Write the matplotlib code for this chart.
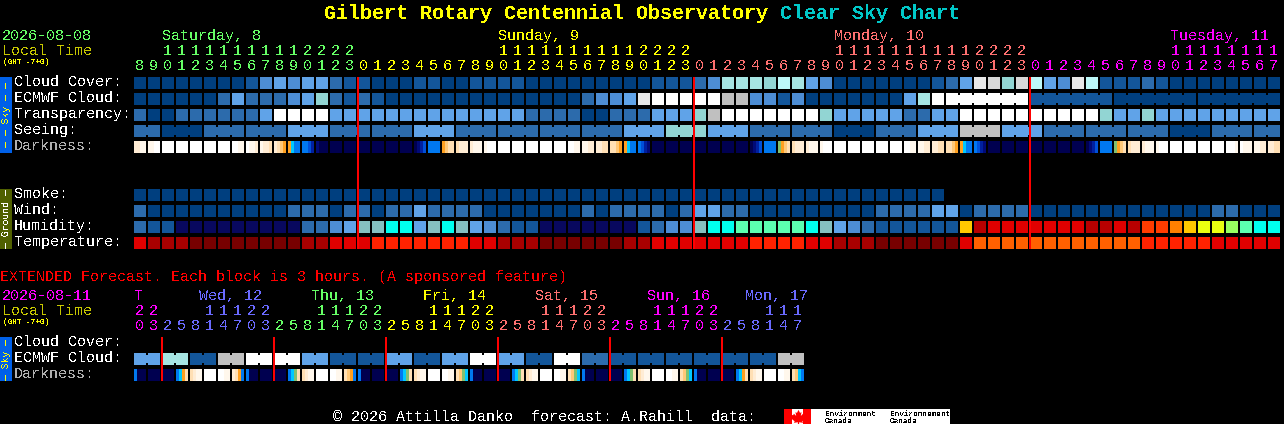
from matplotlib import pyplot as plt
import numpy as np

# block colours, one letter per level
BLOCK_COLOURS = {
    'a': '#003f7f', 'b': '#13569a', 'c': '#2c6bac', 'd': '#4d8dd4', 'e': '#60a3e8',
    'f': '#92d5d3', 'g': '#a6e5e3', 'h': '#bdf9f9', 'w': '#ffffff', 'G': '#c0c0c0',
    'l': '#e8e8e8', 'm': '#d8d8d8', 'n': '#08085e', 't': '#85c0c0', 'y': '#00ffee',
    'M': '#5cffb0', 'Y': '#ffc800', 'D': '#b80000', 'R': '#e00000', 'O': '#ff3c00',
    'A': '#ff8000', 'L': '#eaff10', 'P': '#98ff60', 'S': '#a80000', 'T': '#780000',
    'Q': '#ff2200', 'U': '#ff6000',
}
DARK_COLOURS = {
    '0': '#ffffff', '1': '#fff7ec', '2': '#ffecd4', '3': '#ffdfb4', '4': '#ffc878',
    '5': '#ffa020', '6': '#00c8ff', '7': '#0078f0', '8': '#0050d8', '9': '#0020a0',
    'a': '#000a78', 'b': '#000050', 'g': '#80c070',
}

HOURS = list(range(8, 24)) + list(range(24)) + list(range(24)) + list(range(18))
DAY_LENGTHS = [16, 24, 24, 18]
DAY_COLS = ['#66ff66', '#ffff00', '#ff7070', '#ff00ff']
DAY_NAMES = ['Saturday, 8', 'Sunday, 9', 'Monday, 10', 'Tuesday, 11']
DAY_LABEL_CELLS = [2, 26, 50, 74]

CLOUD = ('aaaaaaaabdedeecb' 'baaabbaabbbb' 'aaaaaaaaa' 'bbbcdgggfhged'
         'aaaaaaa' 'bcelmfmhedlhbbbcb' 'aaaaaaaa')
ECMWF = ('aaaaaa' 'cecccdefcbcb' 'aaaaaaaaaaaaaa' 'cdde' 'l' 'wwwww' 'GG' 'ddbd'
         'aaaaaaa' 'egw' 'wbaa')
ECMWF_RUNS = [1] * 58 + [6] * 4
TRANSPARENCY = ('caa' 'cccccc' 'e' 'wwww' 'eeeeeeeeeeeeee' 'cccc' 'aa' 'ccc' 'eee' 'f' 'G'
                'wwwwwww' 'f' 'eeeee' 'cc' 'ee' 'wwwwwwwwww' 'f' 'ee' 'f' 'eeeeeeeee')
SEEING = 'ca' 'cc' 'ecc' 'ecc' 'cc' 'efe' 'cc' 'a' 'c' 'eGe' 'ccc' 'a' 'cc'
SEEING_RUNS = [2] + [3] * 26 + [2]
DARKNESS = ['2211', '1100', '0000', '0000', '0000', '0000', '0000', '0011', '0112', '1223',
            '2345', '5677', '7789', 'abbb', 'bbbb', 'bbbb', 'bbbb', 'bbbb', 'bbbb', 'bbbb',
            'ba98', '7777', '5433', '3222', '2111', '1000', '0000', '0000', '0000', '0000',
            '0000', '0011', '1122', '2233', '3345', '5677', '789a', 'bbbb', 'bbbb', 'bbbb',
            'bbbb', 'bbbb', 'bbbb', 'bbbb', 'ba98', '7777', 'g543', '3222', '2111', '1000',
            '0000', '0000', '0000', '0000', '0000', '0011', '1122', '2233', '3345', '5677',
            '789a', 'bbbb', 'bbbb', 'bbbb', 'bbbb', 'bbbb', 'bbbb', 'bbbb', 'ba98', '7777',
            'g543', '3222', '2111', '1000', '0000', '0000', '0000', '0000', '0001', '0111',
            '1122', '2233']
SMOKE = 'a' * 58
WIND = ('c' 'aaaaaaaaaa' 'ccc' 'a' 'cc' 'a' 'cc' 'e' 'cccc' 'aaaaaaa' 'c' 'a' 'cccc' 'a' 'c'
        'ee' 'cc' 'aaaaaaaaa' 'cccc' 'ee' 'a' 'cccc' 'aaaaaaaaaaaaa' 'cc' 'aaa')
HUMIDITY = ('cbb' 'nnnnnnnnn' 'ccdettyyetyted' 'cbb' 'nnnnnnn' 'bcddtyy' 'MMMMM' 'ytedc'
            'bbbbbb' 'YD' 'RRRRRRR' 'DDRD' 'OOAYLLPMyy')
TEMPERATURE = ('R' 'SSS' 'TTTTTTTT' 'SS' 'RRR' 'QQQQQQQ' 'RR' 'SSS' 'TTTTTT' 'SS' 'RRRRRRR'
               'QQQQ' 'RR' 'SSS' 'TTTTTT' 'R' 'UUUUUUUUUUUU' 'QQQQQ' 'RRRRR')

# extended forecast
EXT_HOURS = [20, 23] + [2, 5, 8, 11, 14, 17, 20, 23] * 5 + [2, 5, 8, 11, 14, 17]
EXT_DAY_LENGTHS = [2, 8, 8, 8, 8, 8, 6]
EXT_DAY_COLS = ['#ff00ff', '#6a6aff', '#66ff66', '#ffff00', '#ff7070', '#ff00ff', '#6a6aff']
EXT_DAY_NAMES = ['T', 'Wed, 12', 'Thu, 13', 'Fri, 14', 'Sat, 15', 'Sun, 16', 'Mon, 17']
EXT_DAY_X = [134, 199, 311, 423, 535, 647, 745]
EXT_ECMWF = 'egbGwwebbebewebwcbbbbbbG'
EXT_RUNS = [2] * 24
EXT_DARKNESS = ['7bbb', 'bbbb', 'bbbb', '7653', '3211', '0000', '0011', '2357',
                '7bbb', 'bbbb', 'bbbb', '76g3', '3211', '0000', '0011', '3457',
                '7bbb', 'bbbb', 'bbbb', '76g3', '3211', '0000', '0011', '34g6',
                '7bbb', 'bbbb', 'bbbb', '76g3', '3211', '0000', '0011', '34g6',
                '7bbb', 'bbbb', 'bbbb', '76g3', '3211', '0000', '0011', '34g6',
                '7bbb', 'bbbb', 'bbbb', '7653', '3211', '0000', '0011', '3467']

# maple leaf outline for the logo flag
LEAF = [(0, 1), (-0.2, 0.6), (-0.4, 0.7), (-0.3, 0.2), (-0.6, 0.5), (-0.7, 0.3), (-1, 0.35),
        (-0.85, 0), (-1, -0.1), (-0.5, -0.5), (-0.6, -0.7), (-0.08, -0.62), (-0.08, -1),
        (0.08, -1), (0.08, -0.62), (0.6, -0.7), (0.5, -0.5), (1, -0.1), (0.85, 0), (1, 0.35),
        (0.7, 0.3), (0.6, 0.5), (0.3, 0.2), (0.4, 0.7), (0.2, 0.6)]

LEFT = 134
STEP = 14
CELL = 12
FONT = 'Liberation Mono'

plt.rcParams['text.antialiased'] = False
plt.rcParams['text.hinting'] = 'native'
plt.rcParams['font.family'] = FONT

fig = plt.figure(figsize=(12.84, 4.24), dpi=100, facecolor='black')
ax = fig.add_axes([0, 0, 1, 1])
ax.set_xlim(0, 1284)
ax.set_ylim(424, 0)
ax.axis('off')


def rect(x, y, w, h, colour):
    ax.bar(x, h, w, y, align='edge', color=colour, linewidth=0, antialiased=False)


def draw_row(codes, y, runs=None):
    # each code covers one run of cells, joined cells get a narrow bridge
    if runs is None:
        runs = [1] * len(codes)
    cell = 0
    for code, run in zip(codes, runs):
        colour = BLOCK_COLOURS[code]
        for k in range(run):
            rect(LEFT + cell * STEP, y, CELL, CELL, colour)
            if k < run - 1:
                rect(LEFT + cell * STEP + CELL, y + 2, STEP - CELL, CELL - 4, colour)
            cell += 1


def draw_darkness(cells, y):
    for i, slices in enumerate(cells):
        for j, code in enumerate(slices):
            rect(LEFT + i * STEP + j * CELL / 4, y, CELL / 4, CELL, DARK_COLOURS[code])


def label(x, y, s, colour='white', size=10.8, **kw):
    ax.text(x, y, s, color=colour, fontsize=size, va='baseline', ha=kw.pop('ha', 'left'), **kw)


def hour_labels(hours, lengths, colours, y_tens, y_units):
    day_cols = np.repeat(colours, lengths)
    for i, hour in enumerate(hours):
        x = LEFT + i * STEP + 5.5
        if hour >= 10:
            label(x, y_tens, str(hour // 10), day_cols[i], ha='center')
        label(x, y_units, str(hour % 10), day_cols[i], ha='center')


def side_bar(y0, y1, colour, text_colour, s):
    rect(0, y0, 12, y1 - y0, colour)
    ax.text(6, (y0 + y1) / 2, s, color=text_colour, fontsize=7, rotation=90,
            ha='center', va='center')


# title
label(324, 19, 'Gilbert Rotary Centennial Observatory', '#ffff00', 14.4, fontweight='bold')
label(780, 19, 'Clear Sky Chart', '#00c8c8', 14.4, fontweight='bold')

# header of the hourly part
label(2, 40, '2026-08-08', '#66ff66')
label(2, 55, 'Local Time', '#c8c800')
label(3, 64.5, '(GMT -7+0)', '#ffff00', 5.6)
for name, cell, col in zip(DAY_NAMES, DAY_LABEL_CELLS, DAY_COLS):
    label(LEFT + cell * STEP, 40, name, col)
hour_labels(HOURS, DAY_LENGTHS, DAY_COLS, 55, 70)

# hourly rows
for s, y, col in [('Cloud Cover:', 86, 'white'), ('ECMWF Cloud:', 102, 'white'),
                  ('Transparency:', 118, 'white'), ('Seeing:', 134, 'white'),
                  ('Darkness:', 150, '#b0b0b0'), ('Smoke:', 198, 'white'), ('Wind:', 214, 'white'),
                  ('Humidity:', 230, 'white'), ('Temperature:', 246, 'white')]:
    label(14, y, s, col)

draw_row(CLOUD, 77)
draw_row(ECMWF, 93, ECMWF_RUNS)
draw_row(TRANSPARENCY, 109)
draw_row(SEEING, 125, SEEING_RUNS)
draw_darkness(DARKNESS, 141)
draw_row(SMOKE, 189)
draw_row(WIND, 205)
draw_row(HUMIDITY, 221)
draw_row(TEMPERATURE, 237)

side_bar(77, 153, '#0060e8', '#ffff00', '\u2014 \u2014 Sky \u2014 \u2014')
side_bar(189, 249, '#506000', 'white', '\u2014 Ground \u2014')

# midnight lines
for i, hour in enumerate(HOURS):
    if hour == 0 and i > 0:
        rect(LEFT + i * STEP - 1, 77, 2, 172, '#ff0000')

# extended forecast
label(0, 281, 'EXTENDED Forecast. Each block is 3 hours. (A sponsored feature)', '#ff0000')
label(2, 300, '2026-08-11', '#ff00ff')
label(2, 315, 'Local Time', '#c8c800')
label(3, 324.5, '(GMT -7+0)', '#ffff00', 5.6)
for name, x, col in zip(EXT_DAY_NAMES, EXT_DAY_X, EXT_DAY_COLS):
    label(x, 300, name, col)
hour_labels(EXT_HOURS, EXT_DAY_LENGTHS, EXT_DAY_COLS, 315, 330)

label(14, 346, 'Cloud Cover:')
label(14, 362, 'ECMWF Cloud:')
label(14, 378, 'Darkness:', '#b0b0b0')
draw_row(EXT_ECMWF, 353, EXT_RUNS)
draw_darkness(EXT_DARKNESS, 369)
side_bar(337, 381, '#0060e8', '#ffff00', '\u2014 Sky \u2014')

for i, hour in enumerate(EXT_HOURS):
    if hour == 2:
        rect(LEFT + i * STEP - 1, 337, 2, 44, '#ff0000')

# footer and logo
label(333, 421, '\u00a9 2026 Attilla Danko  forecast: A.Rahill  data:')
rect(784, 409, 166, 15, 'white')
rect(784, 409, 8, 15, '#ff0000')
rect(803, 409, 8, 15, '#ff0000')
ax.plot([797.5], [416.5], marker=LEAF, color='#ff0000', markersize=11, markeredgewidth=0)
for x, word in [(825, 'Environment'), (890, 'Environnement')]:
    ax.text(x, 416, word, color='black', fontsize=5.5, va='baseline')
    ax.text(x, 423, 'Canada', color='black', fontsize=5.5, va='baseline')

fig.savefig('out.png', dpi=100, facecolor='black')
